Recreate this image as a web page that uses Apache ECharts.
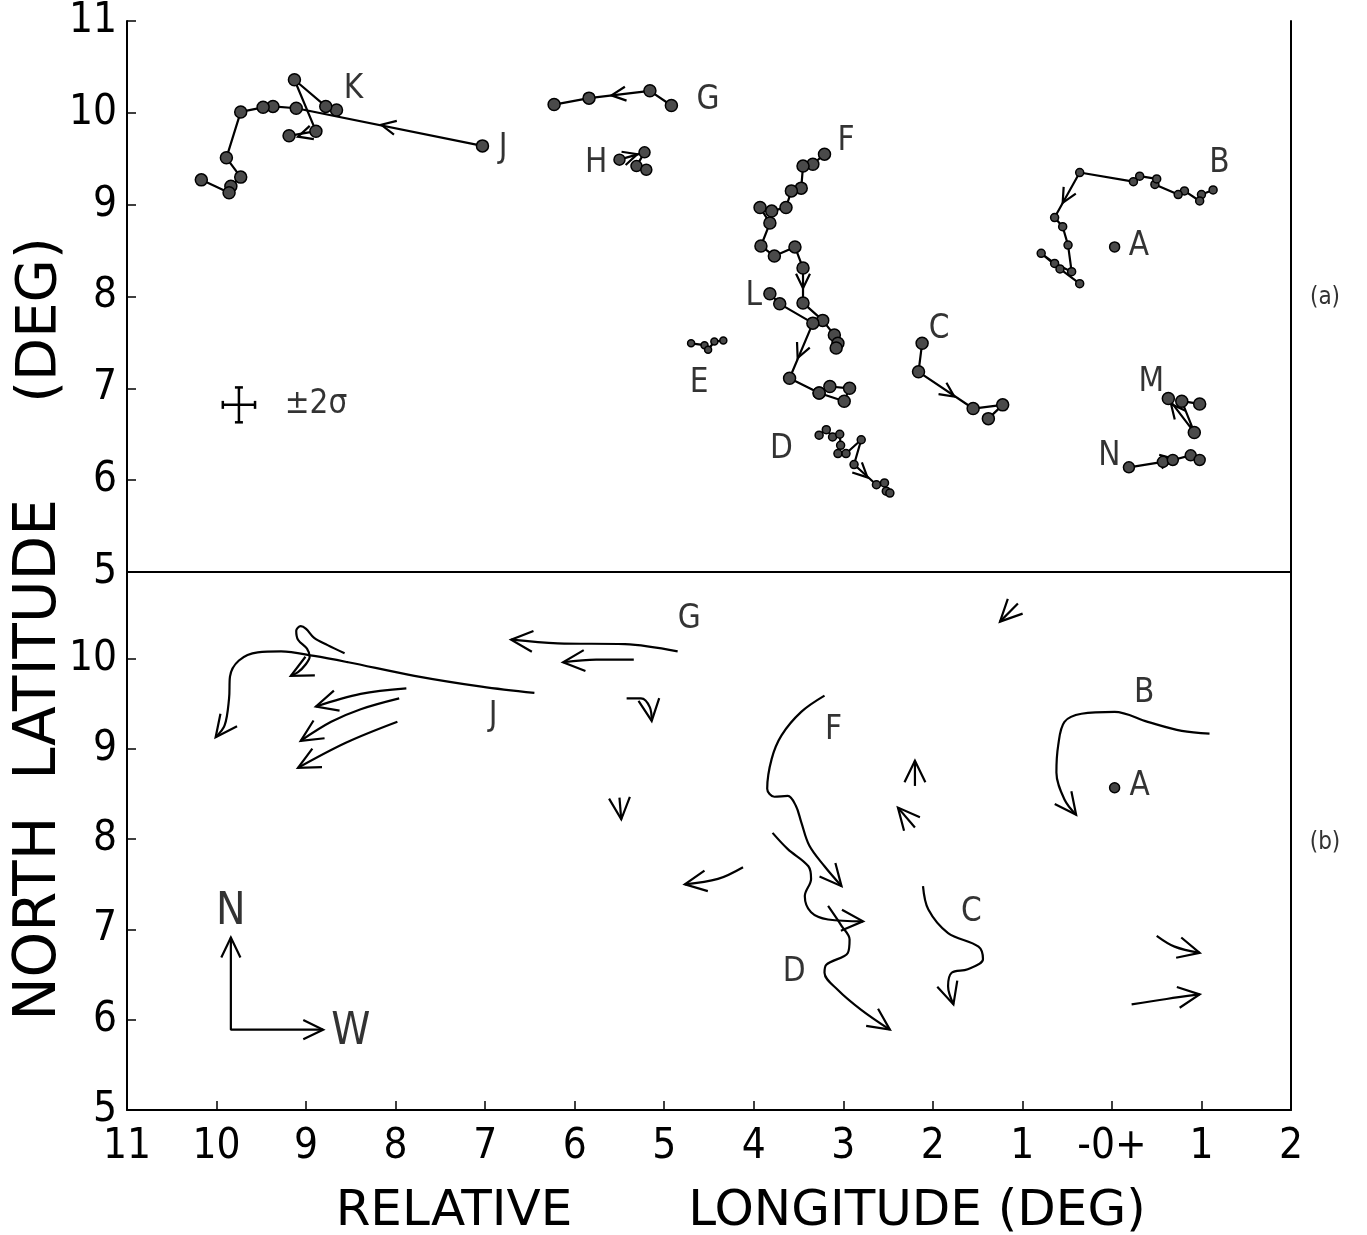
<!DOCTYPE html>
<html>
<head>
<meta charset="utf-8">
<script src="https://cdn.jsdelivr.net/npm/echarts@6/dist/echarts.min.js"></script>
<style>
  html, body { margin: 0; padding: 0; background: #fff; }
  #chart { width: 1367px; height: 1235px; }
</style>
</head>
<body>
<div id="chart"></div>
<script>
// relative longitude (east positive, left of -0+) / north latitude
// (a) observed tracks
var trackJ = [[7.03,9.64],[9.11,10.05],[9.37,10.07],[9.48,10.06],[9.73,10.01],[9.89,9.51],[9.73,9.30],[9.84,9.20],[9.86,9.13],[10.17,9.27]];
var trackK = [[8.66,10.03],[8.78,10.07],[9.13,10.36],[8.89,9.80],[9.19,9.75]];
var trackG = [[4.92,10.08],[5.16,10.24],[5.84,10.16],[6.23,10.09]];
var trackH = [[5.50,9.49],[5.22,9.57],[5.31,9.42],[5.20,9.38]];
var trackF = [[3.21,9.55],[3.34,9.44],[3.45,9.42],[3.47,9.18],[3.58,9.15],[3.64,8.97],[3.80,8.93],[3.93,8.97],[3.82,8.80],[3.92,8.55],[3.77,8.44],[3.54,8.54],[3.45,8.31],[3.45,7.93],[3.23,7.74],[3.10,7.58],[3.06,7.49],[3.08,7.44]];
var trackL = [[3.82,8.03],[3.71,7.92],[3.34,7.71],[3.60,7.11],[3.27,6.95],[3.15,7.02],[2.93,7.00],[2.99,6.86],[3.27,6.95]];
var trackE = [[4.70,7.49],[4.55,7.47],[4.51,7.42],[4.44,7.51],[4.34,7.52]];
var trackB = [[-1.13,9.16],[-1.00,9.11],[-0.98,9.04],[-0.81,9.15],[-0.74,9.11],[-0.48,9.22],[-0.50,9.28],[-0.31,9.31],[-0.24,9.25],[0.36,9.35],[0.64,8.86],[0.55,8.76],[0.49,8.56],[0.45,8.27],[0.64,8.36],[0.79,8.47],[0.58,8.30],[0.36,8.14]];
var trackC = [[2.12,7.49],[2.16,7.18],[1.55,6.78],[1.22,6.82],[1.38,6.67]];
var trackD = [[3.27,6.49],[3.19,6.55],[3.12,6.47],[3.04,6.50],[3.03,6.38],[3.06,6.29],[2.97,6.29],[2.80,6.44],[2.88,6.17],[2.63,5.95],[2.54,5.97],[2.52,5.88],[2.48,5.86]];
var trackM = [[-0.98,6.83],[-0.78,6.86],[-0.92,6.52],[-0.63,6.89]];
var trackN = [[-0.19,6.14],[-0.57,6.20],[-0.68,6.22],[-0.88,6.27],[-0.98,6.22]];
var pointA = [[-0.03,8.54]];
// direction arrows on the tracks: [from x, from y, tip x, tip y]
var topArrows = [
  [7.03,9.64,8.16,9.87],
  [8.89,9.80,9.09,9.74],
  [5.16,10.24,5.59,10.19],
  [5.50,9.49,5.30,9.55],
  [3.45,8.31,3.45,8.09],
  [3.34,7.71,3.51,7.33],
  [0.36,9.35,0.55,9.02],
  [2.16,7.18,1.76,6.91],
  [2.88,6.17,2.73,6.03],
  [-0.92,6.52,-0.66,6.83],
  [-0.19,6.14,-0.70,6.23]
];
// +-2 sigma error bar: x, y, half width, half height
var sigmaBar = [[9.75,6.82,0.18,0.19]];
var topLabels = [[8.47,10.26,'K'],[6.80,9.61,'J'],[4.51,10.13,'G'],[5.76,9.45,'H'],[2.97,9.69,'F'],[-1.20,9.45,'B'],[-0.30,8.55,'A'],[4.00,8.00,'L'],[1.93,7.64,'C'],[4.61,7.05,'E'],[-0.44,7.06,'M'],[3.69,6.34,'D'],[0.03,6.26,'N'],[8.89,6.82,'±2σ']];

// (b) smoothed flow curves, arrow at the last point
var curveJ = [[6.45,9.62],[7.04,9.69],[7.79,9.81],[8.53,9.96],[8.91,10.03],[9.28,10.08],[9.54,10.07],[9.75,9.98],[9.85,9.80],[9.86,9.56],[9.91,9.26],[10.01,9.13]];
var curveK = [[8.57,10.06],[8.76,10.15],[8.91,10.23],[9.00,10.33],[9.06,10.36],[9.11,10.31],[9.09,10.21],[8.99,10.11],[8.96,10.02],[9.01,9.93],[9.09,9.85],[9.17,9.81]];
var curveJa = [[7.88,9.67],[8.39,9.61],[8.89,9.47]];
var curveJb = [[7.96,9.56],[8.39,9.44],[8.72,9.30],[9.06,9.09]];
var curveJc = [[7.98,9.30],[8.55,9.07],[9.09,8.79]];
var curveG1 = [[4.85,10.08],[5.44,10.16],[6.19,10.17],[6.71,10.21]];
var curveG2 = [[5.34,9.99],[5.76,9.99],[6.13,9.96]];
var curveH = [[5.42,9.56],[5.26,9.56],[5.16,9.46],[5.14,9.31]];
var curveI = [[5.50,8.46],[5.48,8.22]];
var curveF = [[3.21,9.59],[3.47,9.41],[3.69,9.15],[3.80,8.89],[3.85,8.56],[3.77,8.47],[3.62,8.48],[3.53,8.37],[3.47,8.19],[3.38,7.93],[3.21,7.70],[3.02,7.48]];
var curveD1 = [[3.79,8.07],[3.62,7.89],[3.39,7.70],[3.36,7.56],[3.43,7.37],[3.36,7.19],[3.17,7.11],[2.78,7.09]];
var curveD2 = [[3.17,7.26],[3.02,7.04],[2.93,6.89],[2.95,6.74],[3.19,6.61],[3.21,6.52],[3.06,6.33],[2.80,6.11],[2.48,5.89]];
var curveE = [[4.12,7.69],[4.40,7.56],[4.77,7.50]];
var curveUp = [[2.20,8.59],[2.20,8.87]];
var curveUpLeft = [[2.20,8.13],[2.39,8.35]];
var curveC = [[2.11,7.48],[2.05,7.22],[1.83,6.96],[1.49,6.81],[1.44,6.67],[1.61,6.56],[1.79,6.52],[1.83,6.37],[1.77,6.17]];
var curveTR = [[1.05,10.61],[1.25,10.41]];
var curveB = [[-1.09,9.17],[-0.78,9.20],[-0.40,9.30],[-0.03,9.41],[0.34,9.39],[0.53,9.30],[0.60,9.04],[0.62,8.74],[0.53,8.44],[0.40,8.27]];
var curveR1 = [[-0.50,6.93],[-0.70,6.81],[-0.98,6.74]];
var curveR2 = [[-0.22,6.17],[-0.61,6.23],[-0.98,6.28]];
var pointAb = [[-0.03,8.57]];
var compass = [[9.84,6.91],[9.84,5.89],[8.81,5.89]];
var bottomLabels = [[4.72,10.44,'G'],[6.91,9.36,'J'],[3.11,9.20,'F'],[-0.36,9.61,'B'],[-0.31,8.58,'A'],[1.57,7.19,'C'],[3.55,6.52,'D']];
var compassLabels = [[9.84,7.19,'N'],[8.50,5.86,'W']];

var xTicks = [-2, 11];   // axis runs from 11 (left) to 2 W (right)

var FONT = "'DejaVu Sans Condensed', 'Liberation Sans Narrow', sans-serif";
var TITLE_FONT = "'DejaVu Sans', sans-serif";

var chart = echarts.init(document.getElementById('chart'));

function arrowRender(len) {
    return function (params, api) {
        var p0 = api.coord([api.value(0), api.value(1)]);
        var p1 = api.coord([api.value(2), api.value(3)]);
        var a = Math.atan2(p1[1] - p0[1], p1[0] - p0[0]);
        var w = 0.45;
        var w1 = [p1[0] - len * Math.cos(a - w), p1[1] - len * Math.sin(a - w)];
        var w2 = [p1[0] - len * Math.cos(a + w), p1[1] - len * Math.sin(a + w)];
        return {
            type: 'polyline',
            shape: {points: [w1, p1, w2]},
            style: {stroke: '#000', lineWidth: 2.2, fill: null}
        };
    };
}

function xAxisOf(grid, showLabels) {
    return {
        type: 'value', gridIndex: grid, min: xTicks[0], max: xTicks[1], interval: 1, inverse: true,
        axisLine: {show: true, onZero: false, lineStyle: {color: '#000', width: 2}},
        axisTick: {show: showLabels, inside: true, length: 9, lineStyle: {color: '#000', width: 1.5}},
        axisLabel: {
            show: showLabels, color: '#000', fontSize: 42, fontFamily: FONT, margin: 16,
            showMinLabel: true, showMaxLabel: true,
            formatter: function (v) { return v === 0 ? '-0+' : String(Math.abs(v)); }
        },
        splitLine: {show: false}
    };
}

function yAxisOf(grid, max, right) {
    return {
        type: 'value', gridIndex: grid, min: 5, max: max, interval: 1,
        position: right ? 'right' : 'left',
        axisLine: {show: true, onZero: false, lineStyle: {color: '#000', width: 2}},
        axisTick: {show: !right, inside: true, length: 9, lineStyle: {color: '#000', width: 1.5}},
        axisLabel: {show: !right, color: '#000', fontSize: 42, fontFamily: FONT, margin: 10, showMaxLabel: max === 11},
        splitLine: {show: false}
    };
}

var series = [];

// (a) tracks
[
    {d: trackJ, s: 12}, {d: trackK, s: 12}, {d: trackG, s: 12}, {d: trackH, s: 11},
    {d: trackF, s: 12}, {d: trackL, s: 12}, {d: trackE, s: 7}, {d: trackB, s: 8},
    {d: trackC, s: 12}, {d: trackD, s: 8}, {d: trackM, s: 12}, {d: trackN, s: 11},
    {d: pointA, s: 10}
].forEach(function (t) {
    series.push({
        type: 'line', xAxisIndex: 0, yAxisIndex: 0, data: t.d,
        symbol: 'circle', symbolSize: t.s, showSymbol: true,
        lineStyle: {color: '#000', width: 2.2},
        itemStyle: {color: '#4a4a4a', borderColor: '#000', borderWidth: 1.5},
        silent: true
    });
});

series.push({
    type: 'custom', xAxisIndex: 0, yAxisIndex: 0, data: topArrows,
    encode: {x: [0, 2], y: [1, 3]}, renderItem: arrowRender(16), silent: true
});

series.push({
    type: 'custom', xAxisIndex: 0, yAxisIndex: 0, data: sigmaBar,
    encode: {x: 0, y: 1}, silent: true,
    renderItem: function (params, api) {
        var c = api.coord([api.value(0), api.value(1)]);
        var l = api.coord([api.value(0) + api.value(2), api.value(1)]);
        var r = api.coord([api.value(0) - api.value(2), api.value(1)]);
        var t = api.coord([api.value(0), api.value(1) + api.value(3)]);
        var b = api.coord([api.value(0), api.value(1) - api.value(3)]);
        var st = {stroke: '#000', lineWidth: 2.5};
        var cap = 4;
        return {
            type: 'group', children: [
                {type: 'line', shape: {x1: l[0], y1: c[1], x2: r[0], y2: c[1]}, style: st},
                {type: 'line', shape: {x1: c[0], y1: t[1], x2: c[0], y2: b[1]}, style: st},
                {type: 'line', shape: {x1: l[0], y1: c[1] - cap, x2: l[0], y2: c[1] + cap}, style: st},
                {type: 'line', shape: {x1: r[0], y1: c[1] - cap, x2: r[0], y2: c[1] + cap}, style: st},
                {type: 'line', shape: {x1: c[0] - cap, y1: t[1], x2: c[0] + cap, y2: t[1]}, style: st},
                {type: 'line', shape: {x1: c[0] - cap, y1: b[1], x2: c[0] + cap, y2: b[1]}, style: st}
            ]
        };
    }
});

function labelSeries(xi, data, size) {
    return {
        type: 'scatter', xAxisIndex: xi, yAxisIndex: xi, data: data, symbolSize: 0, silent: true,
        itemStyle: {color: '#000'},
        label: {
            show: true, position: 'inside', color: '#000', fontSize: size, fontFamily: FONT,
            fontWeight: 500, textBorderWidth: 0,
            formatter: function (p) { return p.value[2]; }
        }
    };
}
series.push(labelSeries(0, topLabels, 33));

// (b) curves
var curves = [curveJ, curveK, curveJa, curveJb, curveJc, curveG1, curveG2, curveH, curveI,
    curveF, curveD1, curveD2, curveE, curveUp, curveUpLeft, curveC, curveTR, curveB, curveR1, curveR2];
curves.forEach(function (c) {
    series.push({
        type: 'line', xAxisIndex: 1, yAxisIndex: 1, data: c, smooth: 0.35, showSymbol: false,
        lineStyle: {color: '#000', width: 2.2}, silent: true
    });
});
series.push({
    type: 'custom', xAxisIndex: 1, yAxisIndex: 1,
    data: curves.map(function (c) { return c[c.length - 2].concat(c[c.length - 1]); }),
    encode: {x: [0, 2], y: [1, 3]}, renderItem: arrowRender(24), silent: true
});
series.push({
    type: 'line', xAxisIndex: 1, yAxisIndex: 1, data: pointAb,
    symbol: 'circle', symbolSize: 10, showSymbol: true,
    itemStyle: {color: '#444', borderColor: '#000', borderWidth: 1.5}, silent: true
});
series.push({
    type: 'line', xAxisIndex: 1, yAxisIndex: 1, data: compass, showSymbol: false,
    lineStyle: {color: '#000', width: 2.2}, silent: true
});
series.push({
    type: 'custom', xAxisIndex: 1, yAxisIndex: 1,
    data: [compass[1].concat(compass[0]), compass[1].concat(compass[2])],
    encode: {x: [0, 2], y: [1, 3]}, renderItem: arrowRender(22), silent: true
});
series.push(labelSeries(1, bottomLabels, 33));
series.push(labelSeries(1, compassLabels, 44));

chart.setOption({
    animation: false,
    backgroundColor: '#fff',
    grid: [
        {left: 127, top: 20, width: 1164, height: 552},
        {left: 127, top: 572, width: 1164, height: 538}
    ],
    xAxis: [xAxisOf(0, false), xAxisOf(1, true)],
    yAxis: [yAxisOf(0, 11, false), yAxisOf(1, 10.96, false), yAxisOf(0, 11, true), yAxisOf(1, 10.96, true)],
    series: series,
    graphic: [
        {type: 'text', x: 40, y: 760, rotation: Math.PI / 2,
            style: {text: 'NORTH  LATITUDE', font: '58px ' + TITLE_FONT, fill: '#000', align: 'center', verticalAlign: 'middle'}},
        {type: 'text', x: 40, y: 320, rotation: Math.PI / 2,
            style: {text: '(DEG)', font: '56px ' + TITLE_FONT, fill: '#000', align: 'center', verticalAlign: 'middle'}},
        {type: 'text', x: 454, y: 1212,
            style: {text: 'RELATIVE', font: '50px ' + TITLE_FONT, fill: '#000', align: 'center', verticalAlign: 'middle'}},
        {type: 'text', x: 917, y: 1212,
            style: {text: 'LONGITUDE (DEG)', font: '50px ' + TITLE_FONT, fill: '#000', align: 'center', verticalAlign: 'middle'}},
        {type: 'text', x: 1325, y: 298,
            style: {text: '(a)', font: '24px ' + FONT, fill: '#333', align: 'center', verticalAlign: 'middle'}},
        {type: 'text', x: 1325, y: 843,
            style: {text: '(b)', font: '24px ' + FONT, fill: '#333', align: 'center', verticalAlign: 'middle'}}
    ]
});
</script>
</body>
</html>
